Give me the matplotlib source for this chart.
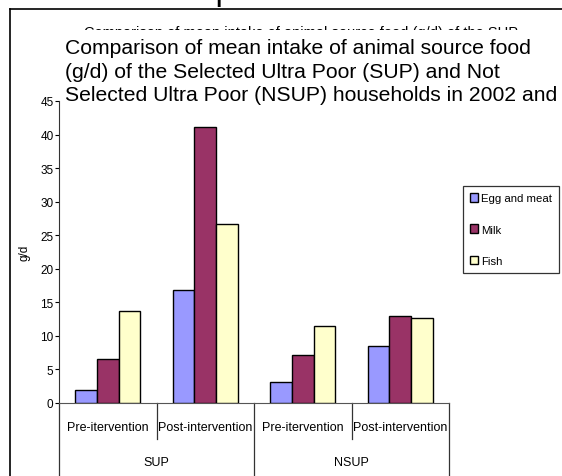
import matplotlib.pyplot as plt
from matplotlib.patches import Rectangle
from matplotlib.lines import Line2D
import numpy as np

# dados
subcategorias = ["Pre-itervention", "Post-intervention", "Pre-itervention", "Post-intervention"]
grupos = ["SUP", "NSUP"]
series = ["Egg and meat", "Milk", "Fish"]
ovo_carne = [2.0, 16.8, 3.1, 8.5]
leite = [6.5, 41.2, 7.1, 12.9]
peixe = [13.7, 26.7, 11.4, 12.7]
cores = ["#9999FF", "#993366", "#FFFFCC"]

fonte_estreita = ["Liberation Sans Narrow", "Liberation Sans", "DejaVu Sans"]
fonte = ["Liberation Sans", "DejaVu Sans"]

W, H = 562, 477
fig = plt.figure(figsize=(W / 100, H / 100), dpi=100)

def px(x, y):
    # converte pixeis (origem em cima à esquerda) para coordenadas da figura
    return x / W, 1 - y / H

ax = fig.add_axes([59 / W, 73 / H, 390 / W, 302 / H])

x = np.arange(len(subcategorias))
larg = 0.222
for i, (vals, nome) in enumerate(zip([ovo_carne, leite, peixe], series)):
    ax.bar(x + (i - 1) * larg, vals, width=larg, color=cores[i], edgecolor="black",
           linewidth=1.0, label=nome, zorder=3)

ax.set_xlim(-0.5, 3.5)
ax.set_ylim(0, 45)
ax.set_yticks(range(0, 50, 5))
ax.set_xticks([])
for s in ["top", "right"]:
    ax.spines[s].set_visible(False)
ax.spines["left"].set_color("#333333")
ax.spines["bottom"].set_color("#555555")
ax.tick_params(axis="y", length=3, width=0.8, pad=1, labelsize=8.5)
for t in ax.get_yticklabels():
    t.set_family(fonte_estreita)
ax.set_ylabel("g/d", fontsize=8.5, family=fonte_estreita, labelpad=7)

# eixo de categorias em dois níveis
trans = ax.get_xaxis_transform()
for xs in [0.5, 2.5]:
    ax.add_line(Line2D([xs, xs], [0, -0.119], transform=trans, color="#333333", lw=0.9, clip_on=False))
for xs in [-0.5, 1.5, 3.5]:
    ax.add_line(Line2D([xs, xs], [0, -0.26], transform=trans, color="#333333", lw=0.9, clip_on=False))
for xi, lab in zip(x, subcategorias):
    ax.text(xi, -0.08, lab, transform=trans, ha="center", va="center", fontsize=9,
            family=fonte_estreita)
for gi, lab in enumerate(grupos):
    ax.text(gi * 2 + 0.5, -0.195, lab, transform=trans, ha="center", va="center", fontsize=9,
            family=fonte_estreita)

# legenda
leg = fig.legend(loc="upper left", bbox_to_anchor=px(463, 187), prop={"family": fonte_estreita, "size": 8.2},
                 frameon=True, fancybox=False, edgecolor="black", handlelength=0.7, handleheight=0.8,
                 handletextpad=0.3, labelspacing=1.85, borderpad=0.6, borderaxespad=0)
leg.get_frame().set_linewidth(0.9)

# títulos
fig.text(*px(84, 33), "Comparison of mean intake of animal source food (g/d) of the SUP",
         fontsize=10.5, family=fonte, ha="left", va="center", zorder=1)
fig.patches.append(Rectangle(px(60, 41), 470 / W, 10 / H, transform=fig.transFigure,
                             facecolor="white", edgecolor="none", zorder=5))
fig.text(*px(65, 72), "Comparison of mean intake of animal source food\n(g/d) of the Selected Ultra Poor (SUP) and Not\nSelected Ultra Poor (NSUP) households in 2002 and",
         fontsize=15.2, family=fonte, ha="left", va="center", linespacing=1.32, zorder=6)
fig.text(*px(8, -8), "Evaluation Report", fontsize=24, family=fonte, ha="left", va="center")

# moldura
fig.add_artist(Line2D([10 / W, 1], [1 - 10 / H, 1 - 10 / H], transform=fig.transFigure, color="black", lw=1.2))
fig.add_artist(Line2D([10 / W, 10 / W], [0, 1 - 10 / H], transform=fig.transFigure, color="black", lw=1.2))

plt.savefig("out.png", dpi=100)
plt.close()
